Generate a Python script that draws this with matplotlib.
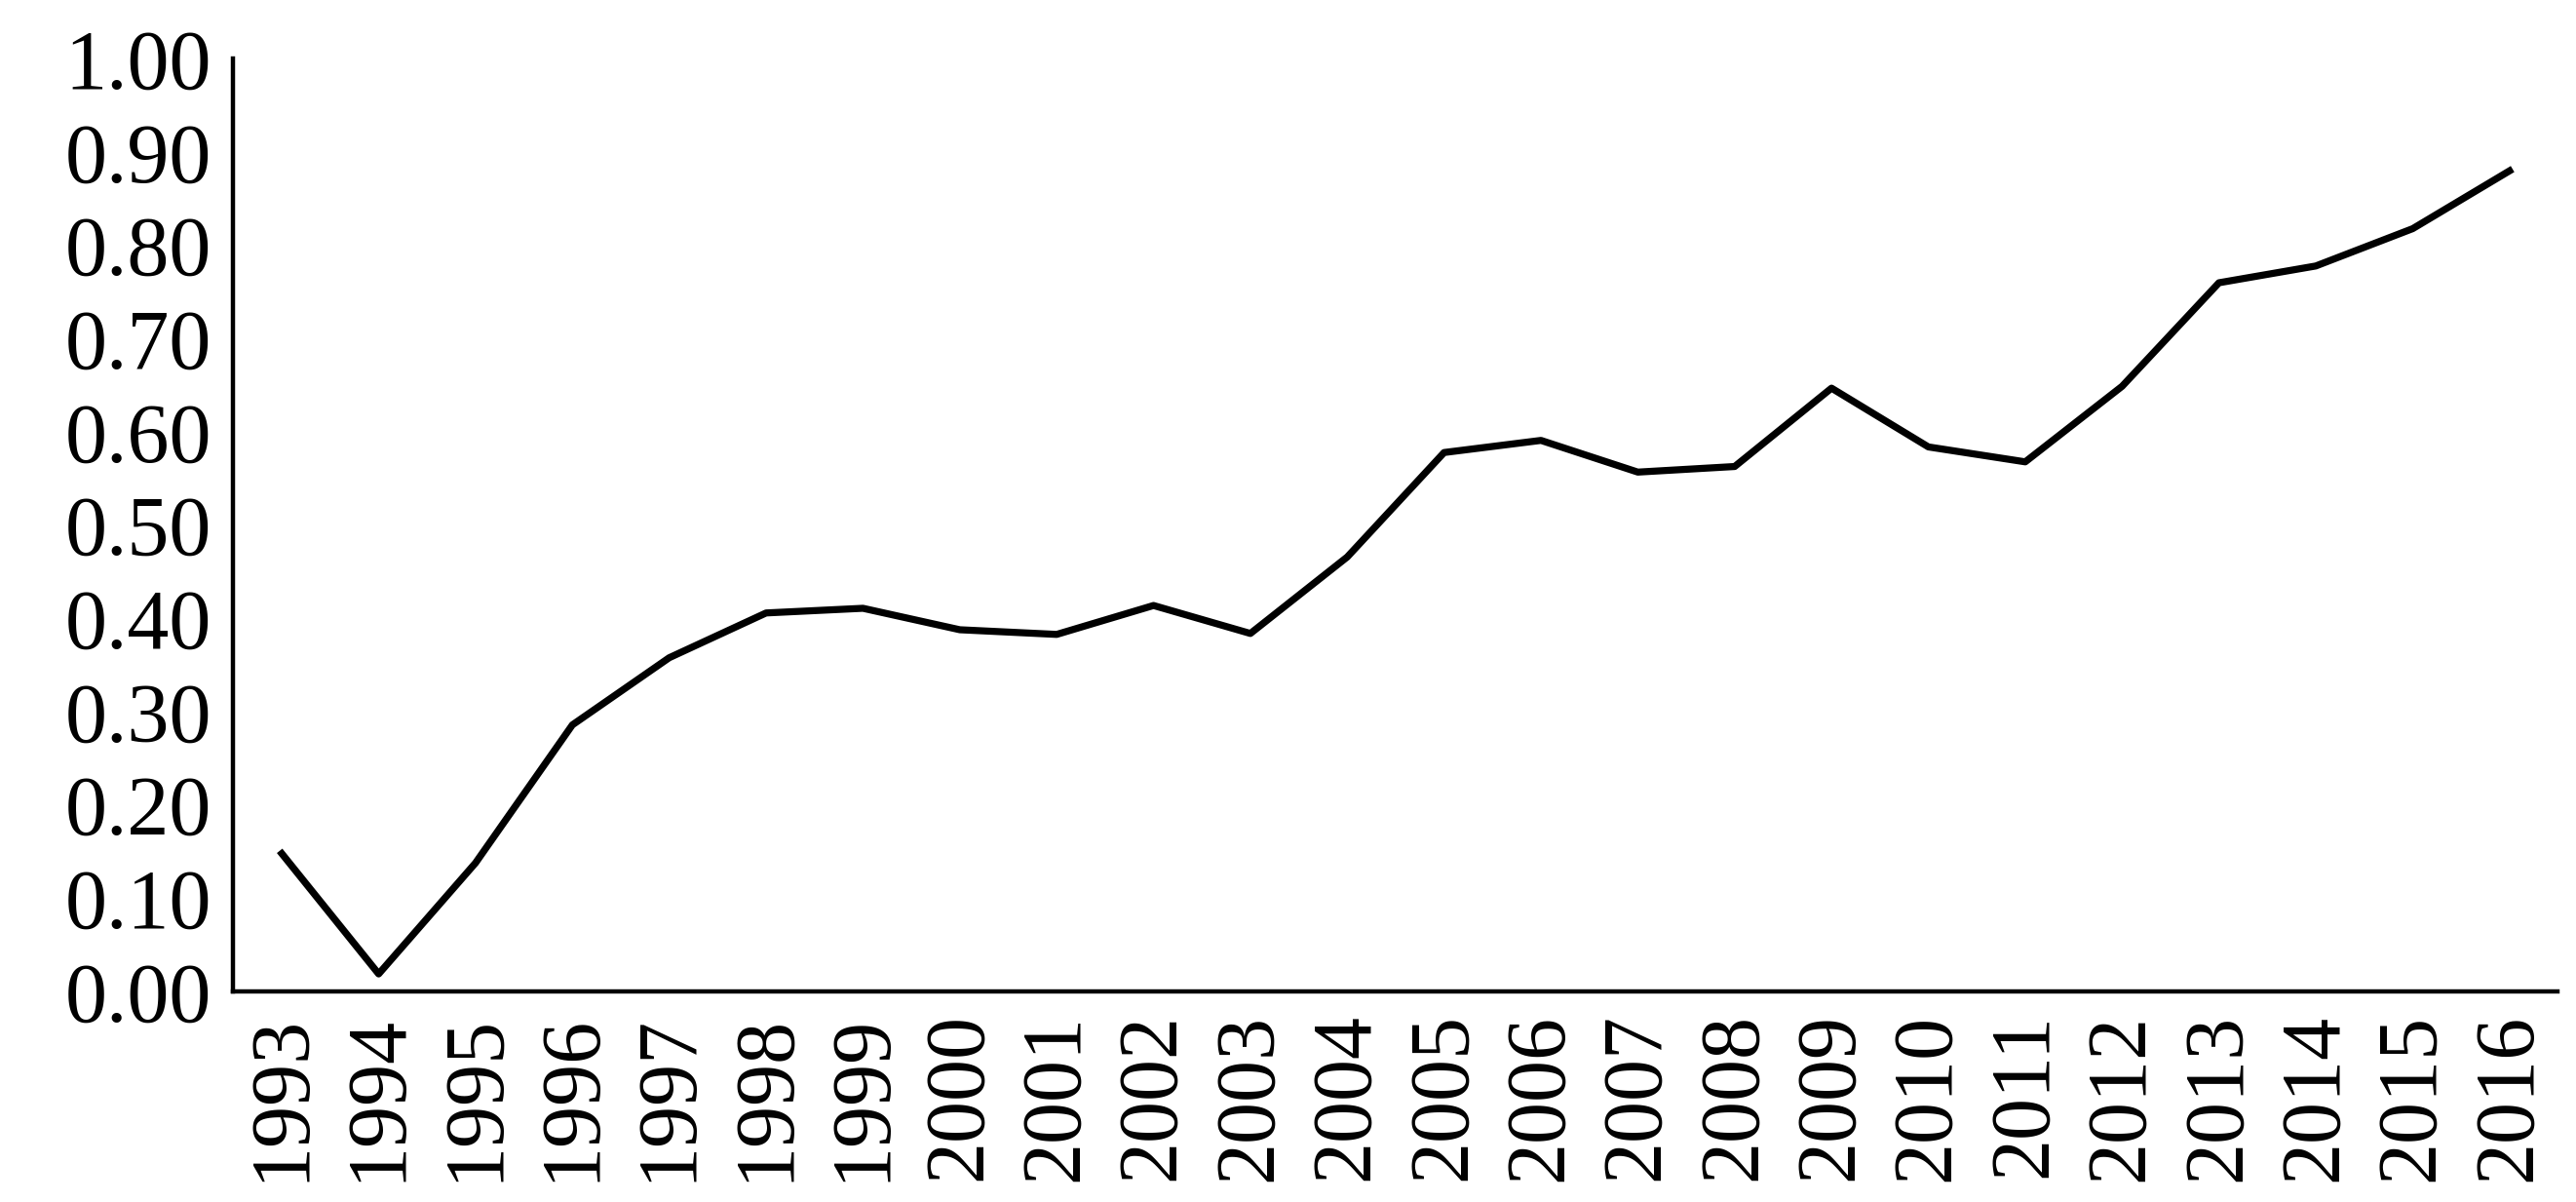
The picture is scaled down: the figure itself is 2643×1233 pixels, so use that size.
import matplotlib.pyplot as plt
import numpy as np

years = [str(y) for y in range(1993, 2017)]
values = [0.148, 0.019, 0.138, 0.286, 0.358, 0.406, 0.411, 0.388, 0.383, 0.414,
          0.384, 0.466, 0.578, 0.591, 0.557, 0.563, 0.647, 0.584, 0.568, 0.649,
          0.760, 0.778, 0.818, 0.880]

plt.rcParams['font.family'] = ['Liberation Serif', 'DejaVu Serif']

fig = plt.figure(figsize=(26.43, 12.33), dpi=100)
ax = fig.add_axes([0.0906, 0.175, 0.9024, 0.776])
x = np.arange(len(years))
ax.plot(x, values, color='black', linewidth=5.2)

ax.set_xlim(-0.5, len(years) - 0.5)
ax.set_ylim(0, 1.0)
ax.set_yticks(np.arange(0, 1.01, 0.1))
ax.set_yticklabels([f'{v:.2f}' for v in np.arange(0, 1.01, 0.1)])
ax.set_xticks(x)
ax.set_xticklabels(years, rotation=90)
ax.tick_params(axis='both', length=0, labelsize=62, pad=16)
for s in ['top', 'right']:
    ax.spines[s].set_visible(False)
for s in ['left', 'bottom']:
    ax.spines[s].set_linewidth(3.2)

fig.savefig('out.png', dpi=100)
